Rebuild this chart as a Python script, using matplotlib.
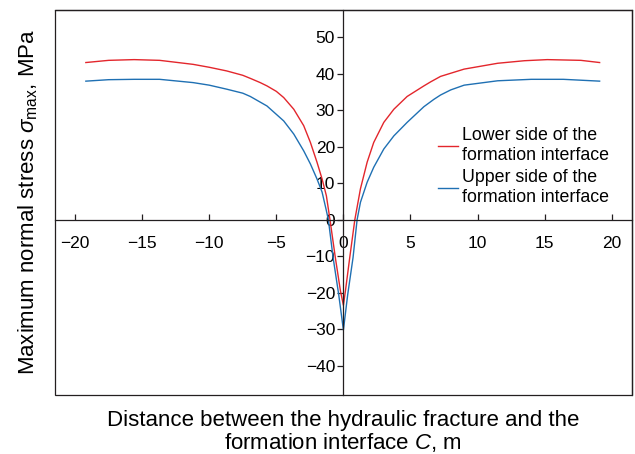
import numpy as np
import matplotlib.pyplot as plt
from matplotlib.patches import Rectangle

plt.rcParams['font.family'] = ['Liberation Sans', 'DejaVu Sans']
plt.rcParams['mathtext.fontset'] = 'custom'
plt.rcParams['mathtext.rm'] = 'Liberation Sans'
plt.rcParams['mathtext.it'] = 'Liberation Sans:italic'

# lower side of the formation interface (red)
x_lower = [-19.2, -17.5, -15.6, -13.7, -11.2, -10.0, -8.7, -7.5, -6.9, -6.2,
           -5.7, -5.0, -4.45, -3.7, -2.96, -2.46, -1.97, -1.59, -1.27, -1.0,
           -0.6, -0.22, 0.0, 0.15, 0.47, 0.85, 1.27, 1.77, 2.26, 3.01,
           3.76, 4.75, 6.0, 6.5, 7.24, 9.0, 11.5, 13.5, 15.2, 17.7, 19.1]
s_lower = [43.1, 43.7, 43.9, 43.7, 42.6, 41.8, 40.8, 39.6, 38.7, 37.6,
           36.7, 35.2, 33.5, 30.3, 25.8, 21.2, 15.8, 11.2, 6.6, 0.0,
           -10.4, -19.5, -23.4, -19.5, -10.4, 0.0, 8.5, 15.8, 21.2, 26.7,
           30.3, 33.8, 36.7, 37.8, 39.3, 41.3, 42.9, 43.6, 43.9, 43.7, 43.1]

# upper side of the formation interface (blue)
x_upper = [-19.2, -17.5, -15.6, -13.7, -11.2, -10.0, -8.7, -7.5, -6.94, -5.7,
           -4.45, -3.7, -2.96, -2.46, -1.97, -1.59, -1.3, -1.12, -0.77, -0.35,
           0.0, 0.32, 0.72, 1.02, 1.27, 1.77, 2.26, 3.01, 3.76, 4.75,
           6.0, 6.74, 7.24, 8.0, 9.0, 11.5, 14.0, 16.4, 19.1]
s_upper = [38.0, 38.4, 38.5, 38.5, 37.6, 36.9, 35.8, 34.7, 33.8, 31.2,
           27.1, 23.5, 18.9, 15.3, 11.2, 7.6, 3.0, 0.0, -10.3, -20.5,
           -30.2, -20.5, -10.3, 0.0, 4.8, 10.3, 14.4, 19.4, 23.0, 26.7,
           31.0, 33.0, 34.2, 35.6, 36.9, 38.1, 38.5, 38.5, 38.0]

xticks = [-20, -15, -10, -5, 0, 5, 10, 15, 20]
yticks = [-40, -30, -20, -10, 0, 10, 20, 30, 40, 50]

fig = plt.figure(figsize=(6.35, 4.54), dpi=100)
ax = fig.add_axes([0.0866, 0.130, 0.9084, 0.848])

ax.plot(x_lower, s_lower, color='#e3262c', lw=1.0, label='Lower side of the\nformation interface')
ax.plot(x_upper, s_upper, color='#1f70b3', lw=1.0, label='Upper side of the\nformation interface')

ax.set_xlim(-21.5, 21.5)
ax.set_ylim(-48, 57.5)
ax.set_xticks(xticks)
ax.set_yticks(yticks)

axcol = '#231f20'
ax.spines['left'].set_position('zero')
ax.spines['bottom'].set_position('zero')
for s in ax.spines.values():
    s.set_color(axcol)
    s.set_linewidth(0.9)
ax.add_patch(Rectangle((0, 0), 1, 1, transform=ax.transAxes, fill=False,
                       edgecolor=axcol, lw=0.9, clip_on=False))

ax.tick_params(axis='x', direction='in', length=4, width=0.9, pad=11.5,
               labelsize=12.5, colors=axcol, labelcolor='black')
ax.tick_params(axis='y', direction='out', length=4, width=0.9, pad=2,
               labelsize=12.5, colors=axcol, labelcolor='black')

ax.set_xlabel('Distance between the hydraulic fracture and the\nformation interface $\\it{C}$, m',
              fontsize=16, linespacing=1.0)
ax.xaxis.set_label_coords(0.5, -0.04)
ax.xaxis.label.set_va('top')
ax.set_ylabel('Maximum normal stress $\\sigma_{\\mathrm{max}}$, MPa', fontsize=16)
ax.yaxis.set_label_coords(-0.026, 0.5)

ax.legend(loc='upper left', bbox_to_anchor=(0.664, 0.695), frameon=False,
          fontsize=12.8, handlelength=1.1, handletextpad=0.25,
          labelspacing=0.3, borderaxespad=0, borderpad=0)

fig.savefig('out.png', dpi=100)
